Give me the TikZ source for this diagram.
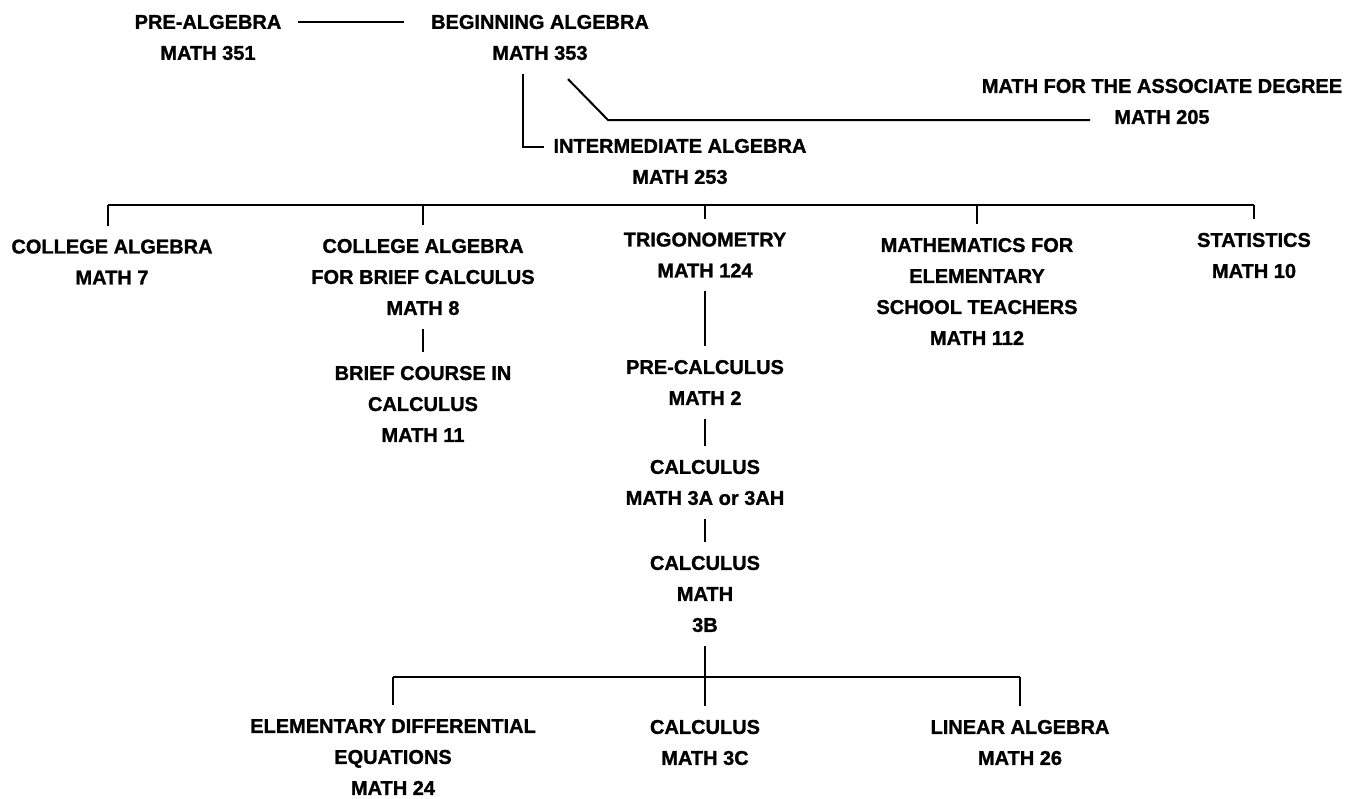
\documentclass[tikz,border=0pt]{standalone}
\usepackage{fontspec}
\setmainfont{Liberation Sans}[BoldFeatures={FakeBold=1.2}]
\usepackage{tikz}
\usetikzlibrary{positioning,calc}
\tikzset{
    every picture/.style={line width=2pt},
    course/.style={align=center,inner xsep=8pt,inner ysep=14pt,outer sep=0pt,
        font=\bfseries\fontsize{20}{31}\selectfont}
}

\begin{document}
\begin{tikzpicture}[x=1pt,y=-1pt]
    \useasboundingbox (0,0) rectangle (1351,798);

    % The first courses
    \node[course] (prealg) at (208,37.5) {PRE-ALGEBRA\\MATH 351};
    \node[course] (begalg) at (540,37.5) {BEGINNING ALGEBRA\\MATH 353};
    \node[course] (assoc) at (1162,101.5) {MATH FOR THE ASSOCIATE DEGREE\\MATH 205};
    \node[course] (intalg) at (680,161.5) {INTERMEDIATE ALGEBRA\\MATH 253};

    % After intermediate algebra
    \node[course] (calg) at (112,262) {COLLEGE ALGEBRA\\MATH 7};
    \node[course] (calgbc) at (423,277) {COLLEGE ALGEBRA\\FOR BRIEF CALCULUS\\MATH 8};
    \node[course] (trig) at (705,255) {TRIGONOMETRY\\MATH 124};
    \node[course] (mathel) at (977,291.5) {MATHEMATICS FOR\\ELEMENTARY\\SCHOOL TEACHERS\\MATH 112};
    \node[course] (stats) at (1254,255.5) {STATISTICS\\MATH 10};
    \node[course] (brief) at (423,404) {BRIEF COURSE IN\\CALCULUS\\MATH 11};

    % The calculus chain
    \node[course] (precalc) at (705,382.5) {PRE-CALCULUS\\MATH 2};
    \node[course] (calca) at (705,482.5) {CALCULUS\\MATH 3A or 3AH};
    \node[course] (calcb) at (705,594) {CALCULUS\\MATH\\3B};
    \node[course] (diffeq) at (393,757) {ELEMENTARY DIFFERENTIAL\\EQUATIONS\\MATH 24};
    \node[course] (calcc) at (705,742.5) {CALCULUS\\MATH 3C};
    \node[course] (linalg) at (1020,742.5) {LINEAR ALGEBRA\\MATH 26};

    \coordinate (elbow) at (523,147);
    \coordinate (kink) at (608,120);
    \coordinate (assocend) at (1090,120);
    \coordinate (top1) at (108,205);
    \coordinate (top5) at (1254,205);
    \coordinate (low1) at (393,677);
    \coordinate (low3) at (1020,677);

    \draw ([xshift=9pt,yshift=-21pt]prealg.north east) -- ([xshift=-19pt,yshift=-21pt]begalg.north west);
    \draw (begalg.south -| elbow) -- (elbow) -- ([xshift=-2pt]elbow -| intalg.west);
    \draw ([xshift=28pt,yshift=-5pt]begalg.south) -- (kink) -- (assocend);

    % upper bus
    \draw (top1) -- (top5);
    \draw (top1) -- (top1 |- calg.north);
    \foreach \n in {calgbc,trig,mathel,stats}
        \draw (top1 -| \n) -- (\n);
    \draw (calgbc) -- (brief);
    \draw (trig) -- (precalc);
    \draw (precalc) -- (calca);
    \draw (calca) -- (calcb);

    % lower bus
    \draw (low1) -- (low3);
    \draw (calcb) -- (calcc);
    \draw (low1) -- (diffeq);
    \draw (low3) -- (linalg);
\end{tikzpicture}
\end{document}
